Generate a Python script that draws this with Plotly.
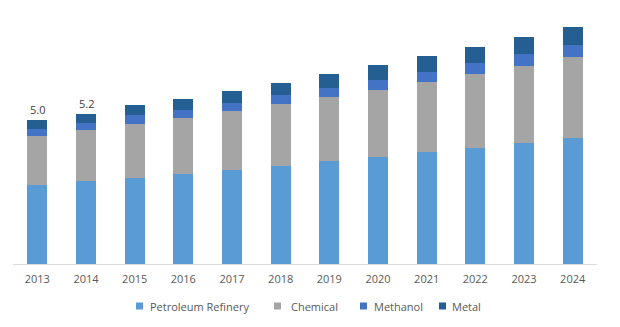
import plotly.graph_objects as go

years = ["2013", "2014", "2015", "2016", "2017", "2018", "2019", "2020", "2021", "2022", "2023", "2024"]
petroleum_refinery = [2.73, 2.88, 2.98, 3.11, 3.26, 3.39, 3.56, 3.71, 3.88, 4.02, 4.19, 4.36]
chemical = [1.71, 1.75, 1.87, 1.94, 2.03, 2.15, 2.21, 2.31, 2.42, 2.55, 2.66, 2.80]
methanol = [0.23, 0.25, 0.29, 0.29, 0.29, 0.32, 0.31, 0.35, 0.35, 0.39, 0.42, 0.42]
metal = [0.33, 0.32, 0.35, 0.36, 0.40, 0.40, 0.48, 0.52, 0.55, 0.54, 0.59, 0.62]
labelled_years = ["2013", "2014"]

series_names = ["Petroleum Refinery", "Chemical", "Methanol", "Metal"]
series_values = [petroleum_refinery, chemical, methanol, metal]
series_colors = ["#5B9BD5", "#A5A5A5", "#4472C4", "#255E91"]

W, H = 620, 327
L, R, T, B = 13, 23, 10, 63
pw, ph = W - L - R, H - T - B

fig = go.Figure()
for name, vals, color in zip(series_names, series_values, series_colors):
    fig.add_trace(go.Bar(x=years, y=vals, name=name, marker=dict(color=color, line=dict(width=0)),
                         width=0.41, showlegend=False))

totals = [a + b + c + d for a, b, c, d in zip(petroleum_refinery, chemical, methanol, metal)]
for i, (yr, tot) in enumerate(zip(years, totals)):
    if yr in labelled_years:
        fig.add_annotation(x=i, y=tot, text=f"{tot:.1f}", showarrow=False, yanchor="bottom", yshift=1,
                           font=dict(family="Open Sans", size=11, color="#404040"))

# custom legend (small squares close to text, as in the reference)
legend_sq_px = [136, 274, 360, 439]
legend_txt_px = [148, 289, 372, 450]
legend_y_px = 306
def px_x(p):
    return (p - L) / pw
def px_y(p):
    return (H - B - p) / ph
for name, color, sx, tx in zip(series_names, series_colors, legend_sq_px, legend_txt_px):
    fig.add_shape(type="rect", xref="paper", yref="paper",
                  x0=px_x(sx), x1=px_x(sx + 7), y0=px_y(legend_y_px + 3.5), y1=px_y(legend_y_px - 3.5),
                  fillcolor=color, line=dict(width=0))
    fig.add_annotation(xref="paper", yref="paper", x=px_x(tx), y=px_y(legend_y_px), text=name,
                       showarrow=False, xanchor="left", yanchor="middle",
                       font=dict(family="Open Sans", size=11, color="#595959"))

fig.update_layout(
    barmode="stack",
    width=W, height=H,
    margin=dict(l=L, r=R, t=T, b=B),
    paper_bgcolor="white", plot_bgcolor="white",
    font=dict(family="Open Sans", size=11, color="#595959"),
    xaxis=dict(type="category", range=[-0.5, len(years) - 0.5], showline=True, linecolor="#D9D9D9",
               linewidth=1, ticks="outside", ticklen=5, tickcolor="rgba(0,0,0,0)", showgrid=False,
               tickfont=dict(size=11, color="#595959")),
    yaxis=dict(visible=False, range=[0, 8.79], showgrid=False, zeroline=False),
    showlegend=False,
)

fig.write_html("out.html")
